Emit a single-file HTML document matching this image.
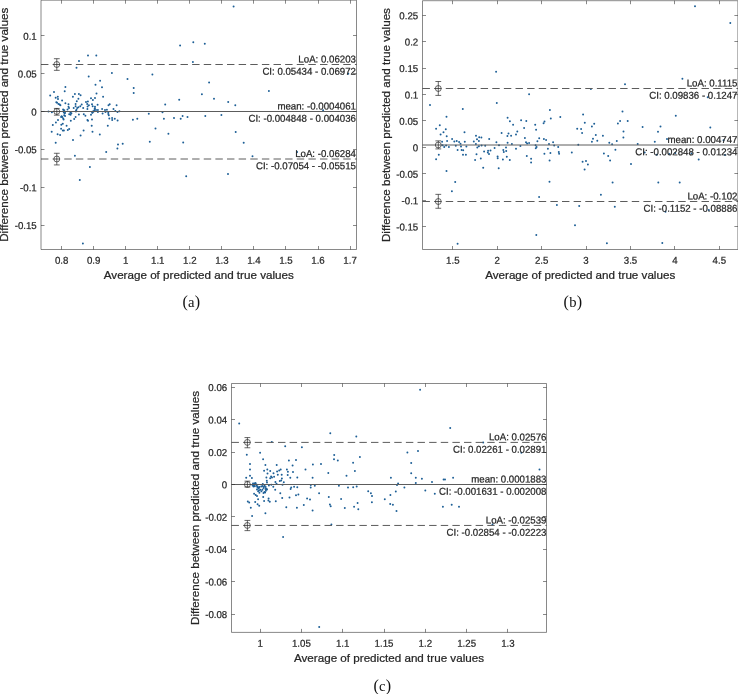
<!DOCTYPE html>
<html><head><meta charset="utf-8"><title>Bland-Altman plots</title>
<style>html,body{margin:0;padding:0;background:#fff;}body{width:738px;height:694px;overflow:hidden;}svg{display:block;will-change:transform;}text{font-family:"Liberation Sans",sans-serif;fill:#262626;stroke:#262626;stroke-width:0.24px;}.t{font-size:10.00px;}.l{font-size:11.65px;}.c{font-family:"Liberation Serif",serif;font-size:16.1px;fill:#111;stroke:none;}</style></head><body>
<svg width="738" height="694" viewBox="0 0 738 694">
<rect width="738" height="694" fill="#fff"/>
<g id="plot-a">
<g fill="#1d5f96">
<circle cx="88.0" cy="55.4" r="0.98"/>
<circle cx="96.3" cy="55.4" r="0.98"/>
<circle cx="79.0" cy="61.0" r="0.98"/>
<circle cx="76.5" cy="67.8" r="0.98"/>
<circle cx="88.7" cy="76.6" r="0.98"/>
<circle cx="100.1" cy="80.8" r="0.98"/>
<circle cx="95.5" cy="84.7" r="0.98"/>
<circle cx="102.0" cy="87.3" r="0.98"/>
<circle cx="65.4" cy="87.1" r="0.98"/>
<circle cx="64.7" cy="91.2" r="0.98"/>
<circle cx="54.0" cy="92.0" r="0.98"/>
<circle cx="50.2" cy="95.6" r="0.98"/>
<circle cx="96.5" cy="93.4" r="0.98"/>
<circle cx="103.1" cy="96.7" r="0.98"/>
<circle cx="74.9" cy="94.1" r="0.98"/>
<circle cx="78.9" cy="93.9" r="0.98"/>
<circle cx="80.6" cy="95.3" r="0.98"/>
<circle cx="72.9" cy="96.7" r="0.98"/>
<circle cx="55.7" cy="97.7" r="0.98"/>
<circle cx="57.8" cy="96.7" r="0.98"/>
<circle cx="58.0" cy="98.9" r="0.98"/>
<circle cx="62.1" cy="100.4" r="0.98"/>
<circle cx="78.4" cy="98.8" r="0.98"/>
<circle cx="76.8" cy="101.2" r="0.98"/>
<circle cx="91.0" cy="98.2" r="0.98"/>
<circle cx="95.0" cy="98.0" r="0.98"/>
<circle cx="92.9" cy="100.1" r="0.98"/>
<circle cx="57.1" cy="102.7" r="0.98"/>
<circle cx="58.5" cy="103.9" r="0.98"/>
<circle cx="59.7" cy="104.6" r="0.98"/>
<circle cx="65.4" cy="103.2" r="0.98"/>
<circle cx="68.5" cy="104.3" r="0.98"/>
<circle cx="75.6" cy="104.1" r="0.98"/>
<circle cx="86.0" cy="102.0" r="0.98"/>
<circle cx="87.9" cy="101.5" r="0.98"/>
<circle cx="87.2" cy="103.9" r="0.98"/>
<circle cx="81.7" cy="104.6" r="0.98"/>
<circle cx="88.9" cy="105.3" r="0.98"/>
<circle cx="92.0" cy="104.3" r="0.98"/>
<circle cx="92.7" cy="106.2" r="0.98"/>
<circle cx="97.6" cy="104.8" r="0.98"/>
<circle cx="95.0" cy="106.7" r="0.98"/>
<circle cx="109.7" cy="104.3" r="0.98"/>
<circle cx="68.5" cy="106.7" r="0.98"/>
<circle cx="75.6" cy="106.2" r="0.98"/>
<circle cx="80.3" cy="106.2" r="0.98"/>
<circle cx="78.4" cy="107.2" r="0.98"/>
<circle cx="83.2" cy="108.1" r="0.98"/>
<circle cx="73.7" cy="108.1" r="0.98"/>
<circle cx="67.5" cy="109.4" r="0.98"/>
<circle cx="63.1" cy="109.4" r="0.98"/>
<circle cx="63.7" cy="111.0" r="0.98"/>
<circle cx="65.1" cy="111.9" r="0.98"/>
<circle cx="76.5" cy="109.7" r="0.98"/>
<circle cx="75.9" cy="111.6" r="0.98"/>
<circle cx="87.4" cy="109.1" r="0.98"/>
<circle cx="94.6" cy="109.1" r="0.98"/>
<circle cx="96.0" cy="110.0" r="0.98"/>
<circle cx="97.9" cy="110.0" r="0.98"/>
<circle cx="93.6" cy="111.6" r="0.98"/>
<circle cx="92.2" cy="112.7" r="0.98"/>
<circle cx="102.1" cy="109.1" r="0.98"/>
<circle cx="105.0" cy="110.0" r="0.98"/>
<circle cx="106.9" cy="109.7" r="0.98"/>
<circle cx="48.5" cy="111.6" r="0.98"/>
<circle cx="51.9" cy="112.2" r="0.98"/>
<circle cx="97.9" cy="111.9" r="0.98"/>
<circle cx="105.5" cy="111.9" r="0.98"/>
<circle cx="108.3" cy="112.4" r="0.98"/>
<circle cx="78.9" cy="114.5" r="0.98"/>
<circle cx="83.8" cy="114.2" r="0.98"/>
<circle cx="85.4" cy="115.7" r="0.98"/>
<circle cx="91.0" cy="114.7" r="0.98"/>
<circle cx="102.6" cy="113.6" r="0.98"/>
<circle cx="108.3" cy="113.9" r="0.98"/>
<circle cx="108.8" cy="115.2" r="0.98"/>
<circle cx="109.3" cy="118.5" r="0.98"/>
<circle cx="70.4" cy="112.8" r="0.98"/>
<circle cx="70.6" cy="114.7" r="0.98"/>
<circle cx="64.9" cy="113.3" r="0.98"/>
<circle cx="64.2" cy="115.2" r="0.98"/>
<circle cx="65.1" cy="115.9" r="0.98"/>
<circle cx="62.3" cy="117.1" r="0.98"/>
<circle cx="63.2" cy="118.5" r="0.98"/>
<circle cx="61.1" cy="117.1" r="0.98"/>
<circle cx="75.6" cy="117.1" r="0.98"/>
<circle cx="74.2" cy="119.0" r="0.98"/>
<circle cx="70.8" cy="120.7" r="0.98"/>
<circle cx="87.4" cy="119.9" r="0.98"/>
<circle cx="92.0" cy="119.4" r="0.98"/>
<circle cx="58.0" cy="120.1" r="0.98"/>
<circle cx="55.9" cy="122.5" r="0.98"/>
<circle cx="52.8" cy="125.1" r="0.98"/>
<circle cx="62.8" cy="123.7" r="0.98"/>
<circle cx="61.3" cy="124.7" r="0.98"/>
<circle cx="66.6" cy="125.8" r="0.98"/>
<circle cx="91.7" cy="125.8" r="0.98"/>
<circle cx="107.8" cy="125.8" r="0.98"/>
<circle cx="61.1" cy="128.7" r="0.98"/>
<circle cx="62.8" cy="130.4" r="0.98"/>
<circle cx="63.9" cy="130.6" r="0.98"/>
<circle cx="67.8" cy="129.9" r="0.98"/>
<circle cx="69.2" cy="128.9" r="0.98"/>
<circle cx="51.7" cy="131.8" r="0.98"/>
<circle cx="83.6" cy="130.6" r="0.98"/>
<circle cx="92.5" cy="131.8" r="0.98"/>
<circle cx="57.6" cy="134.3" r="0.98"/>
<circle cx="60.1" cy="134.9" r="0.98"/>
<circle cx="80.6" cy="135.4" r="0.98"/>
<circle cx="99.8" cy="134.6" r="0.98"/>
<circle cx="73.0" cy="140.1" r="0.98"/>
<circle cx="55.7" cy="142.7" r="0.98"/>
<circle cx="106.2" cy="152.1" r="0.98"/>
<circle cx="74.9" cy="155.8" r="0.98"/>
<circle cx="89.9" cy="167.0" r="0.98"/>
<circle cx="79.8" cy="180.1" r="0.98"/>
<circle cx="82.9" cy="243.5" r="0.98"/>
<circle cx="108.5" cy="105.3" r="0.98"/>
<circle cx="180.1" cy="45.4" r="0.98"/>
<circle cx="193.3" cy="42.3" r="0.98"/>
<circle cx="204.8" cy="43.8" r="0.98"/>
<circle cx="192.9" cy="62.1" r="0.98"/>
<circle cx="111.9" cy="73.1" r="0.98"/>
<circle cx="127.5" cy="79.0" r="0.98"/>
<circle cx="152.4" cy="74.5" r="0.98"/>
<circle cx="133.7" cy="87.9" r="0.98"/>
<circle cx="133.7" cy="92.9" r="0.98"/>
<circle cx="209.1" cy="82.6" r="0.98"/>
<circle cx="201.9" cy="94.2" r="0.98"/>
<circle cx="214.0" cy="98.7" r="0.98"/>
<circle cx="228.2" cy="101.9" r="0.98"/>
<circle cx="179.2" cy="99.7" r="0.98"/>
<circle cx="165.2" cy="104.4" r="0.98"/>
<circle cx="116.6" cy="105.3" r="0.98"/>
<circle cx="113.5" cy="108.9" r="0.98"/>
<circle cx="115.3" cy="111.1" r="0.98"/>
<circle cx="117.5" cy="112.0" r="0.98"/>
<circle cx="119.4" cy="111.3" r="0.98"/>
<circle cx="112.1" cy="117.9" r="0.98"/>
<circle cx="112.2" cy="120.1" r="0.98"/>
<circle cx="114.8" cy="118.8" r="0.98"/>
<circle cx="117.6" cy="120.6" r="0.98"/>
<circle cx="132.9" cy="119.7" r="0.98"/>
<circle cx="137.3" cy="118.7" r="0.98"/>
<circle cx="148.8" cy="113.8" r="0.98"/>
<circle cx="162.5" cy="112.2" r="0.98"/>
<circle cx="163.9" cy="118.8" r="0.98"/>
<circle cx="174.0" cy="117.9" r="0.98"/>
<circle cx="180.7" cy="118.8" r="0.98"/>
<circle cx="182.6" cy="116.1" r="0.98"/>
<circle cx="187.5" cy="117.0" r="0.98"/>
<circle cx="205.3" cy="116.1" r="0.98"/>
<circle cx="221.4" cy="115.1" r="0.98"/>
<circle cx="118.0" cy="144.4" r="0.98"/>
<circle cx="117.4" cy="148.5" r="0.98"/>
<circle cx="122.7" cy="143.8" r="0.98"/>
<circle cx="155.5" cy="128.4" r="0.98"/>
<circle cx="168.4" cy="133.7" r="0.98"/>
<circle cx="149.8" cy="141.7" r="0.98"/>
<circle cx="183.2" cy="142.5" r="0.98"/>
<circle cx="186.2" cy="176.2" r="0.98"/>
<circle cx="228.0" cy="174.0" r="0.98"/>
<circle cx="56.3" cy="102.2" r="0.98"/>
<circle cx="60.4" cy="105.2" r="0.98"/>
<circle cx="69.0" cy="108.1" r="0.98"/>
<circle cx="64.3" cy="110.2" r="0.98"/>
<circle cx="63.8" cy="112.4" r="0.98"/>
<circle cx="69.2" cy="114.2" r="0.98"/>
<circle cx="71.4" cy="113.3" r="0.98"/>
<circle cx="77.2" cy="107.9" r="0.98"/>
<circle cx="76.1" cy="110.8" r="0.98"/>
<circle cx="61.6" cy="116.2" r="0.98"/>
<circle cx="63.6" cy="119.6" r="0.98"/>
<circle cx="87.6" cy="106.6" r="0.98"/>
<circle cx="94.9" cy="108.3" r="0.98"/>
<circle cx="93.0" cy="111.6" r="0.98"/>
<circle cx="94.2" cy="110.8" r="0.98"/>
<circle cx="92.6" cy="112.4" r="0.98"/>
<circle cx="88.0" cy="120.8" r="0.98"/>
<circle cx="233.6" cy="6.5" r="0.98"/>
<circle cx="268.9" cy="91.1" r="0.98"/>
<circle cx="235.3" cy="105.3" r="0.98"/>
<circle cx="348.3" cy="73.8" r="0.98"/>
<circle cx="323.1" cy="110.2" r="0.98"/>
<circle cx="235.7" cy="131.9" r="0.98"/>
<circle cx="243.7" cy="142.7" r="0.98"/>
<circle cx="252.5" cy="156.2" r="0.98"/>
<circle cx="297.1" cy="152.1" r="0.98"/>
</g>
<line x1="41.0" y1="64.50" x2="356.5" y2="64.50" stroke="#5c5c5c" stroke-width="1" stroke-dasharray="7.43 4.196"/>
<g stroke="#262626" stroke-width="0.7" fill="none"><line x1="56.8" y1="70.34" x2="56.8" y2="58.69"/><line x1="53.9" y1="70.34" x2="59.7" y2="70.34"/><line x1="53.9" y1="58.69" x2="59.7" y2="58.69"/><circle cx="56.8" cy="64.50" r="2.95"/></g>
<text class="t" transform="translate(355.90 62.50) rotate(0.05) scale(0.968 1)" text-anchor="end">LoA: 0.06203</text>
<text class="t" transform="translate(355.90 74.85) rotate(0.05) scale(0.968 1)" text-anchor="end">CI: 0.05434 - 0.06972</text>
<line x1="41.0" y1="111.50" x2="356.5" y2="111.50" stroke="#5c5c5c" stroke-width="1"/>
<g stroke="#262626" stroke-width="0.7" fill="none"><line x1="56.8" y1="115.17" x2="56.8" y2="108.44"/><line x1="53.9" y1="115.17" x2="59.7" y2="115.17"/><line x1="53.9" y1="108.44" x2="59.7" y2="108.44"/><circle cx="56.8" cy="111.50" r="2.95"/></g>
<text class="t" transform="translate(355.90 109.50) rotate(0.05) scale(0.968 1)" text-anchor="end">mean: -0.0004061</text>
<text class="t" transform="translate(355.90 121.85) rotate(0.05) scale(0.968 1)" text-anchor="end">CI: -0.004848 - 0.004036</text>
<line x1="41.0" y1="159.00" x2="356.5" y2="159.00" stroke="#5c5c5c" stroke-width="1" stroke-dasharray="7.43 4.196"/>
<g stroke="#262626" stroke-width="0.7" fill="none"><line x1="56.8" y1="164.93" x2="56.8" y2="153.28"/><line x1="53.9" y1="164.93" x2="59.7" y2="164.93"/><line x1="53.9" y1="153.28" x2="59.7" y2="153.28"/><circle cx="56.8" cy="159.00" r="2.95"/></g>
<text class="t" transform="translate(355.90 157.00) rotate(0.05) scale(0.968 1)" text-anchor="end">LoA: -0.06284</text>
<text class="t" transform="translate(355.90 169.35) rotate(0.05) scale(0.968 1)" text-anchor="end">CI: -0.07054 - -0.05515</text>
<path d="M41.0 0.2H356.5V249.5H41.0ZM61.50 249.5v-3.5M61.50 0.2v3.5M93.50 249.5v-3.5M93.50 0.2v3.5M125.50 249.5v-3.5M125.50 0.2v3.5M157.50 249.5v-3.5M157.50 0.2v3.5M189.50 249.5v-3.5M189.50 0.2v3.5M221.50 249.5v-3.5M221.50 0.2v3.5M253.50 249.5v-3.5M253.50 0.2v3.5M285.50 249.5v-3.5M285.50 0.2v3.5M318.50 249.5v-3.5M318.50 0.2v3.5M350.50 249.5v-3.5M350.50 0.2v3.5M41.0 35.50h3.5M356.5 35.50h-3.5M41.0 73.50h3.5M356.5 73.50h-3.5M41.0 111.50h3.5M356.5 111.50h-3.5M41.0 149.50h3.5M356.5 149.50h-3.5M41.0 187.50h3.5M356.5 187.50h-3.5M41.0 225.50h3.5M356.5 225.50h-3.5" fill="none" stroke="#262626" stroke-width="0.55"/>
<text class="t" transform="translate(61.60 263.80) rotate(0.05) scale(0.968 1)" text-anchor="middle">0.8</text>
<text class="t" transform="translate(93.65 263.80) rotate(0.05) scale(0.968 1)" text-anchor="middle">0.9</text>
<text class="t" transform="translate(125.70 263.80) rotate(0.05) scale(0.968 1)" text-anchor="middle">1</text>
<text class="t" transform="translate(157.75 263.80) rotate(0.05) scale(0.968 1)" text-anchor="middle">1.1</text>
<text class="t" transform="translate(189.80 263.80) rotate(0.05) scale(0.968 1)" text-anchor="middle">1.2</text>
<text class="t" transform="translate(221.85 263.80) rotate(0.05) scale(0.968 1)" text-anchor="middle">1.3</text>
<text class="t" transform="translate(253.90 263.80) rotate(0.05) scale(0.968 1)" text-anchor="middle">1.4</text>
<text class="t" transform="translate(285.95 263.80) rotate(0.05) scale(0.968 1)" text-anchor="middle">1.5</text>
<text class="t" transform="translate(318.00 263.80) rotate(0.05) scale(0.968 1)" text-anchor="middle">1.6</text>
<text class="t" transform="translate(350.05 263.80) rotate(0.05) scale(0.968 1)" text-anchor="middle">1.7</text>
<text class="t" transform="translate(36.70 39.65) rotate(0.05) scale(0.968 1)" text-anchor="end">0.1</text>
<text class="t" transform="translate(36.70 77.53) rotate(0.05) scale(0.968 1)" text-anchor="end">0.05</text>
<text class="t" transform="translate(36.70 115.40) rotate(0.05) scale(0.968 1)" text-anchor="end">0</text>
<text class="t" transform="translate(36.70 153.28) rotate(0.05) scale(0.968 1)" text-anchor="end">-0.05</text>
<text class="t" transform="translate(36.70 191.15) rotate(0.05) scale(0.968 1)" text-anchor="end">-0.1</text>
<text class="t" transform="translate(36.70 229.03) rotate(0.05) scale(0.968 1)" text-anchor="end">-0.15</text>
<text class="l" x="198.8" y="278.9" text-anchor="middle">Average of predicted and true values</text>
<text class="l" transform="translate(8.1 124.8) rotate(-90)" text-anchor="middle">Difference between predicted and true values</text>
<text class="c" x="191.3" y="307.4" text-anchor="middle" letter-spacing="0.2">(<tspan font-size="14.6">a</tspan>)</text>
</g>
<g id="plot-b">
<g fill="#1d5f96">
<circle cx="496.1" cy="71.8" r="0.98"/>
<circle cx="496.8" cy="103.0" r="0.98"/>
<circle cx="529.1" cy="94.3" r="0.98"/>
<circle cx="430.0" cy="104.9" r="0.98"/>
<circle cx="462.8" cy="109.1" r="0.98"/>
<circle cx="446.5" cy="116.8" r="0.98"/>
<circle cx="549.9" cy="110.1" r="0.98"/>
<circle cx="507.6" cy="117.7" r="0.98"/>
<circle cx="509.9" cy="121.3" r="0.98"/>
<circle cx="521.1" cy="120.3" r="0.98"/>
<circle cx="526.3" cy="121.0" r="0.98"/>
<circle cx="550.8" cy="118.4" r="0.98"/>
<circle cx="560.3" cy="116.9" r="0.98"/>
<circle cx="544.5" cy="121.5" r="0.98"/>
<circle cx="543.6" cy="123.3" r="0.98"/>
<circle cx="513.1" cy="124.7" r="0.98"/>
<circle cx="535.2" cy="124.8" r="0.98"/>
<circle cx="439.8" cy="125.3" r="0.98"/>
<circle cx="436.1" cy="128.8" r="0.98"/>
<circle cx="445.8" cy="129.2" r="0.98"/>
<circle cx="443.5" cy="132.2" r="0.98"/>
<circle cx="440.6" cy="134.4" r="0.98"/>
<circle cx="446.7" cy="136.2" r="0.98"/>
<circle cx="464.5" cy="132.2" r="0.98"/>
<circle cx="476.0" cy="135.8" r="0.98"/>
<circle cx="479.2" cy="137.3" r="0.98"/>
<circle cx="481.4" cy="137.6" r="0.98"/>
<circle cx="489.2" cy="139.1" r="0.98"/>
<circle cx="452.1" cy="138.9" r="0.98"/>
<circle cx="477.0" cy="139.3" r="0.98"/>
<circle cx="478.9" cy="140.9" r="0.98"/>
<circle cx="473.8" cy="141.4" r="0.98"/>
<circle cx="447.1" cy="141.1" r="0.98"/>
<circle cx="442.1" cy="141.7" r="0.98"/>
<circle cx="454.3" cy="141.4" r="0.98"/>
<circle cx="456.7" cy="140.9" r="0.98"/>
<circle cx="459.1" cy="142.0" r="0.98"/>
<circle cx="464.8" cy="141.8" r="0.98"/>
<circle cx="460.5" cy="143.8" r="0.98"/>
<circle cx="496.4" cy="142.3" r="0.98"/>
<circle cx="475.9" cy="144.1" r="0.98"/>
<circle cx="499.0" cy="145.2" r="0.98"/>
<circle cx="442.6" cy="145.2" r="0.98"/>
<circle cx="446.1" cy="145.4" r="0.98"/>
<circle cx="444.2" cy="147.1" r="0.98"/>
<circle cx="448.9" cy="147.1" r="0.98"/>
<circle cx="455.8" cy="145.8" r="0.98"/>
<circle cx="461.0" cy="146.6" r="0.98"/>
<circle cx="466.4" cy="146.6" r="0.98"/>
<circle cx="481.6" cy="145.6" r="0.98"/>
<circle cx="485.2" cy="145.8" r="0.98"/>
<circle cx="478.9" cy="146.3" r="0.98"/>
<circle cx="477.3" cy="147.4" r="0.98"/>
<circle cx="494.6" cy="147.9" r="0.98"/>
<circle cx="457.6" cy="149.9" r="0.98"/>
<circle cx="461.6" cy="149.9" r="0.98"/>
<circle cx="463.2" cy="150.3" r="0.98"/>
<circle cx="484.1" cy="151.4" r="0.98"/>
<circle cx="488.1" cy="150.7" r="0.98"/>
<circle cx="490.5" cy="150.4" r="0.98"/>
<circle cx="487.8" cy="152.6" r="0.98"/>
<circle cx="489.0" cy="153.9" r="0.98"/>
<circle cx="463.0" cy="154.8" r="0.98"/>
<circle cx="465.9" cy="154.8" r="0.98"/>
<circle cx="476.5" cy="154.2" r="0.98"/>
<circle cx="438.8" cy="154.7" r="0.98"/>
<circle cx="436.1" cy="159.3" r="0.98"/>
<circle cx="480.8" cy="158.6" r="0.98"/>
<circle cx="475.1" cy="159.9" r="0.98"/>
<circle cx="497.6" cy="156.4" r="0.98"/>
<circle cx="497.7" cy="158.2" r="0.98"/>
<circle cx="483.2" cy="167.8" r="0.98"/>
<circle cx="498.7" cy="168.2" r="0.98"/>
<circle cx="446.5" cy="171.0" r="0.98"/>
<circle cx="524.1" cy="127.9" r="0.98"/>
<circle cx="536.1" cy="129.7" r="0.98"/>
<circle cx="577.2" cy="128.8" r="0.98"/>
<circle cx="517.3" cy="131.4" r="0.98"/>
<circle cx="501.6" cy="133.1" r="0.98"/>
<circle cx="508.5" cy="133.5" r="0.98"/>
<circle cx="516.0" cy="134.4" r="0.98"/>
<circle cx="507.4" cy="136.0" r="0.98"/>
<circle cx="511.1" cy="135.8" r="0.98"/>
<circle cx="524.9" cy="137.9" r="0.98"/>
<circle cx="539.2" cy="138.2" r="0.98"/>
<circle cx="537.4" cy="141.2" r="0.98"/>
<circle cx="543.9" cy="139.1" r="0.98"/>
<circle cx="546.1" cy="140.1" r="0.98"/>
<circle cx="507.6" cy="142.8" r="0.98"/>
<circle cx="511.9" cy="143.9" r="0.98"/>
<circle cx="526.0" cy="142.3" r="0.98"/>
<circle cx="527.1" cy="143.4" r="0.98"/>
<circle cx="529.1" cy="143.1" r="0.98"/>
<circle cx="553.1" cy="142.3" r="0.98"/>
<circle cx="549.0" cy="144.1" r="0.98"/>
<circle cx="554.2" cy="145.4" r="0.98"/>
<circle cx="578.3" cy="144.7" r="0.98"/>
<circle cx="520.4" cy="146.1" r="0.98"/>
<circle cx="535.6" cy="145.2" r="0.98"/>
<circle cx="536.6" cy="146.9" r="0.98"/>
<circle cx="535.8" cy="148.2" r="0.98"/>
<circle cx="558.2" cy="147.1" r="0.98"/>
<circle cx="506.0" cy="147.6" r="0.98"/>
<circle cx="516.0" cy="148.7" r="0.98"/>
<circle cx="547.9" cy="148.8" r="0.98"/>
<circle cx="503.3" cy="150.1" r="0.98"/>
<circle cx="506.2" cy="151.0" r="0.98"/>
<circle cx="503.8" cy="152.0" r="0.98"/>
<circle cx="544.4" cy="153.8" r="0.98"/>
<circle cx="550.4" cy="153.0" r="0.98"/>
<circle cx="558.8" cy="152.1" r="0.98"/>
<circle cx="559.1" cy="153.7" r="0.98"/>
<circle cx="571.8" cy="152.6" r="0.98"/>
<circle cx="526.8" cy="156.0" r="0.98"/>
<circle cx="506.8" cy="156.7" r="0.98"/>
<circle cx="502.9" cy="159.6" r="0.98"/>
<circle cx="509.8" cy="159.9" r="0.98"/>
<circle cx="531.1" cy="158.8" r="0.98"/>
<circle cx="531.1" cy="162.6" r="0.98"/>
<circle cx="549.6" cy="160.6" r="0.98"/>
<circle cx="625.0" cy="84.2" r="0.98"/>
<circle cx="590.9" cy="89.0" r="0.98"/>
<circle cx="622.5" cy="111.4" r="0.98"/>
<circle cx="583.1" cy="114.5" r="0.98"/>
<circle cx="584.8" cy="122.7" r="0.98"/>
<circle cx="594.2" cy="123.7" r="0.98"/>
<circle cx="591.9" cy="126.5" r="0.98"/>
<circle cx="620.1" cy="120.9" r="0.98"/>
<circle cx="617.9" cy="123.4" r="0.98"/>
<circle cx="627.7" cy="120.9" r="0.98"/>
<circle cx="642.6" cy="126.9" r="0.98"/>
<circle cx="660.5" cy="126.6" r="0.98"/>
<circle cx="581.1" cy="128.9" r="0.98"/>
<circle cx="582.1" cy="132.9" r="0.98"/>
<circle cx="623.5" cy="131.6" r="0.98"/>
<circle cx="658.0" cy="131.8" r="0.98"/>
<circle cx="595.8" cy="134.9" r="0.98"/>
<circle cx="602.9" cy="135.7" r="0.98"/>
<circle cx="593.0" cy="138.7" r="0.98"/>
<circle cx="623.4" cy="137.6" r="0.98"/>
<circle cx="591.9" cy="141.7" r="0.98"/>
<circle cx="597.3" cy="140.7" r="0.98"/>
<circle cx="616.8" cy="141.1" r="0.98"/>
<circle cx="609.3" cy="142.8" r="0.98"/>
<circle cx="654.8" cy="141.8" r="0.98"/>
<circle cx="612.1" cy="144.2" r="0.98"/>
<circle cx="637.7" cy="144.0" r="0.98"/>
<circle cx="615.4" cy="149.8" r="0.98"/>
<circle cx="603.9" cy="153.6" r="0.98"/>
<circle cx="608.2" cy="155.9" r="0.98"/>
<circle cx="610.1" cy="160.6" r="0.98"/>
<circle cx="582.6" cy="161.8" r="0.98"/>
<circle cx="586.0" cy="161.1" r="0.98"/>
<circle cx="587.9" cy="164.5" r="0.98"/>
<circle cx="584.6" cy="169.4" r="0.98"/>
<circle cx="631.0" cy="164.0" r="0.98"/>
<circle cx="644.7" cy="152.6" r="0.98"/>
<circle cx="656.8" cy="154.8" r="0.98"/>
<circle cx="612.6" cy="182.4" r="0.98"/>
<circle cx="658.3" cy="182.5" r="0.98"/>
<circle cx="600.9" cy="194.8" r="0.98"/>
<circle cx="579.2" cy="206.0" r="0.98"/>
<circle cx="614.8" cy="206.7" r="0.98"/>
<circle cx="665.5" cy="211.8" r="0.98"/>
<circle cx="575.0" cy="225.3" r="0.98"/>
<circle cx="682.4" cy="78.7" r="0.98"/>
<circle cx="707.7" cy="97.3" r="0.98"/>
<circle cx="675.8" cy="115.8" r="0.98"/>
<circle cx="710.3" cy="127.6" r="0.98"/>
<circle cx="667.0" cy="139.0" r="0.98"/>
<circle cx="723.5" cy="140.2" r="0.98"/>
<circle cx="698.7" cy="159.5" r="0.98"/>
<circle cx="675.3" cy="153.0" r="0.98"/>
<circle cx="669.2" cy="154.1" r="0.98"/>
<circle cx="691.5" cy="153.4" r="0.98"/>
<circle cx="725.0" cy="155.1" r="0.98"/>
<circle cx="679.7" cy="182.4" r="0.98"/>
<circle cx="708.8" cy="209.9" r="0.98"/>
<circle cx="662.3" cy="243.0" r="0.98"/>
<circle cx="455.2" cy="181.9" r="0.98"/>
<circle cx="451.9" cy="191.2" r="0.98"/>
<circle cx="457.6" cy="243.7" r="0.98"/>
<circle cx="549.5" cy="181.7" r="0.98"/>
<circle cx="539.1" cy="196.9" r="0.98"/>
<circle cx="556.9" cy="205.1" r="0.98"/>
<circle cx="536.3" cy="235.0" r="0.98"/>
<circle cx="606.9" cy="243.3" r="0.98"/>
<circle cx="695.0" cy="6.3" r="0.98"/>
<circle cx="730.3" cy="22.9" r="0.98"/>
</g>
<line x1="422.5" y1="88.50" x2="737.9" y2="88.50" stroke="#5c5c5c" stroke-width="1" stroke-dasharray="7.43 4.196"/>
<g stroke="#262626" stroke-width="0.7" fill="none"><line x1="438.3" y1="95.42" x2="438.3" y2="81.50"/><line x1="435.4" y1="95.42" x2="441.2" y2="95.42"/><line x1="435.4" y1="81.50" x2="441.2" y2="81.50"/><circle cx="438.3" cy="88.50" r="2.95"/></g>
<text class="t" transform="translate(737.40 86.50) rotate(0.05) scale(0.968 1)" text-anchor="end">LoA: 0.1115</text>
<text class="t" transform="translate(737.40 98.85) rotate(0.05) scale(0.968 1)" text-anchor="end">CI: 0.09836 - 0.1247</text>
<line x1="422.5" y1="145.00" x2="737.9" y2="145.00" stroke="#5c5c5c" stroke-width="1"/>
<g stroke="#262626" stroke-width="0.7" fill="none"><line x1="438.3" y1="148.91" x2="438.3" y2="140.88"/><line x1="435.4" y1="148.91" x2="441.2" y2="148.91"/><line x1="435.4" y1="140.88" x2="441.2" y2="140.88"/><circle cx="438.3" cy="145.00" r="2.95"/></g>
<text class="t" transform="translate(737.40 143.00) rotate(0.05) scale(0.968 1)" text-anchor="end">mean: 0.004747</text>
<text class="t" transform="translate(737.40 155.35) rotate(0.05) scale(0.968 1)" text-anchor="end">CI: -0.002848 - 0.01234</text>
<line x1="422.5" y1="201.50" x2="737.9" y2="201.50" stroke="#5c5c5c" stroke-width="1" stroke-dasharray="7.43 4.196"/>
<g stroke="#262626" stroke-width="0.7" fill="none"><line x1="438.3" y1="208.28" x2="438.3" y2="194.36"/><line x1="435.4" y1="208.28" x2="441.2" y2="208.28"/><line x1="435.4" y1="194.36" x2="441.2" y2="194.36"/><circle cx="438.3" cy="201.50" r="2.95"/></g>
<text class="t" transform="translate(737.40 199.50) rotate(0.05) scale(0.968 1)" text-anchor="end">LoA: -0.102</text>
<text class="t" transform="translate(737.40 211.85) rotate(0.05) scale(0.968 1)" text-anchor="end">CI: -0.1152 - -0.08886</text>
<path d="M422.5 0.7H737.9V249.5H422.5ZM452.50 249.5v-3.5M452.50 0.7v3.5M497.50 249.5v-3.5M497.50 0.7v3.5M541.50 249.5v-3.5M541.50 0.7v3.5M586.50 249.5v-3.5M586.50 0.7v3.5M630.50 249.5v-3.5M630.50 0.7v3.5M674.50 249.5v-3.5M674.50 0.7v3.5M719.50 249.5v-3.5M719.50 0.7v3.5M422.5 15.50h3.5M737.9 15.50h-3.5M422.5 41.50h3.5M737.9 41.50h-3.5M422.5 68.50h3.5M737.9 68.50h-3.5M422.5 94.50h3.5M737.9 94.50h-3.5M422.5 120.50h3.5M737.9 120.50h-3.5M422.5 147.50h3.5M737.9 147.50h-3.5M422.5 173.50h3.5M737.9 173.50h-3.5M422.5 200.50h3.5M737.9 200.50h-3.5M422.5 226.50h3.5M737.9 226.50h-3.5" fill="none" stroke="#262626" stroke-width="0.55"/>
<text class="t" transform="translate(452.80 263.80) rotate(0.05) scale(0.968 1)" text-anchor="middle">1.5</text>
<text class="t" transform="translate(497.22 263.80) rotate(0.05) scale(0.968 1)" text-anchor="middle">2</text>
<text class="t" transform="translate(541.64 263.80) rotate(0.05) scale(0.968 1)" text-anchor="middle">2.5</text>
<text class="t" transform="translate(586.06 263.80) rotate(0.05) scale(0.968 1)" text-anchor="middle">3</text>
<text class="t" transform="translate(630.48 263.80) rotate(0.05) scale(0.968 1)" text-anchor="middle">3.5</text>
<text class="t" transform="translate(674.90 263.80) rotate(0.05) scale(0.968 1)" text-anchor="middle">4</text>
<text class="t" transform="translate(719.32 263.80) rotate(0.05) scale(0.968 1)" text-anchor="middle">4.5</text>
<text class="t" transform="translate(418.20 19.18) rotate(0.05) scale(0.968 1)" text-anchor="end">0.25</text>
<text class="t" transform="translate(418.20 45.60) rotate(0.05) scale(0.968 1)" text-anchor="end">0.2</text>
<text class="t" transform="translate(418.20 72.03) rotate(0.05) scale(0.968 1)" text-anchor="end">0.15</text>
<text class="t" transform="translate(418.20 98.45) rotate(0.05) scale(0.968 1)" text-anchor="end">0.1</text>
<text class="t" transform="translate(418.20 124.88) rotate(0.05) scale(0.968 1)" text-anchor="end">0.05</text>
<text class="t" transform="translate(418.20 151.30) rotate(0.05) scale(0.968 1)" text-anchor="end">0</text>
<text class="t" transform="translate(418.20 177.73) rotate(0.05) scale(0.968 1)" text-anchor="end">-0.05</text>
<text class="t" transform="translate(418.20 204.15) rotate(0.05) scale(0.968 1)" text-anchor="end">-0.1</text>
<text class="t" transform="translate(418.20 230.58) rotate(0.05) scale(0.968 1)" text-anchor="end">-0.15</text>
<text class="l" x="580.2" y="278.9" text-anchor="middle">Average of predicted and true values</text>
<text class="l" transform="translate(389.6 125.1) rotate(-90)" text-anchor="middle">Difference between predicted and true values</text>
<text class="c" x="572.9" y="307.4" text-anchor="middle" letter-spacing="0.2">(<tspan font-size="14.6">b</tspan>)</text>
</g>
<g id="plot-c">
<g fill="#1d5f96">
<circle cx="239.2" cy="423.5" r="0.98"/>
<circle cx="330.3" cy="433.3" r="0.98"/>
<circle cx="356.3" cy="436.6" r="0.98"/>
<circle cx="271.8" cy="442.0" r="0.98"/>
<circle cx="285.2" cy="446.3" r="0.98"/>
<circle cx="301.9" cy="447.2" r="0.98"/>
<circle cx="246.8" cy="454.7" r="0.98"/>
<circle cx="260.1" cy="452.8" r="0.98"/>
<circle cx="263.1" cy="459.3" r="0.98"/>
<circle cx="334.2" cy="454.9" r="0.98"/>
<circle cx="334.0" cy="459.3" r="0.98"/>
<circle cx="337.8" cy="460.4" r="0.98"/>
<circle cx="359.9" cy="457.1" r="0.98"/>
<circle cx="353.1" cy="462.7" r="0.98"/>
<circle cx="288.9" cy="460.6" r="0.98"/>
<circle cx="296.0" cy="460.0" r="0.98"/>
<circle cx="292.6" cy="465.4" r="0.98"/>
<circle cx="250.0" cy="463.9" r="0.98"/>
<circle cx="265.4" cy="465.0" r="0.98"/>
<circle cx="276.7" cy="465.0" r="0.98"/>
<circle cx="312.9" cy="464.5" r="0.98"/>
<circle cx="321.0" cy="464.0" r="0.98"/>
<circle cx="250.0" cy="469.4" r="0.98"/>
<circle cx="267.3" cy="469.5" r="0.98"/>
<circle cx="280.7" cy="469.4" r="0.98"/>
<circle cx="286.9" cy="469.5" r="0.98"/>
<circle cx="305.5" cy="469.5" r="0.98"/>
<circle cx="264.1" cy="470.7" r="0.98"/>
<circle cx="270.2" cy="470.9" r="0.98"/>
<circle cx="267.5" cy="473.4" r="0.98"/>
<circle cx="273.5" cy="473.2" r="0.98"/>
<circle cx="277.1" cy="471.6" r="0.98"/>
<circle cx="279.2" cy="470.5" r="0.98"/>
<circle cx="287.9" cy="471.8" r="0.98"/>
<circle cx="293.0" cy="472.1" r="0.98"/>
<circle cx="277.8" cy="474.7" r="0.98"/>
<circle cx="281.7" cy="474.8" r="0.98"/>
<circle cx="287.7" cy="475.1" r="0.98"/>
<circle cx="250.0" cy="475.8" r="0.98"/>
<circle cx="246.2" cy="477.8" r="0.98"/>
<circle cx="251.9" cy="478.0" r="0.98"/>
<circle cx="266.4" cy="477.4" r="0.98"/>
<circle cx="271.1" cy="476.4" r="0.98"/>
<circle cx="272.0" cy="477.4" r="0.98"/>
<circle cx="274.1" cy="476.7" r="0.98"/>
<circle cx="270.2" cy="478.3" r="0.98"/>
<circle cx="281.9" cy="478.6" r="0.98"/>
<circle cx="290.3" cy="477.8" r="0.98"/>
<circle cx="297.3" cy="477.5" r="0.98"/>
<circle cx="266.8" cy="480.8" r="0.98"/>
<circle cx="279.8" cy="481.0" r="0.98"/>
<circle cx="281.2" cy="480.5" r="0.98"/>
<circle cx="283.8" cy="482.3" r="0.98"/>
<circle cx="275.4" cy="481.9" r="0.98"/>
<circle cx="267.0" cy="482.6" r="0.98"/>
<circle cx="276.5" cy="483.7" r="0.98"/>
<circle cx="262.8" cy="484.1" r="0.98"/>
<circle cx="254.3" cy="483.4" r="0.98"/>
<circle cx="255.7" cy="484.1" r="0.98"/>
<circle cx="253.2" cy="484.8" r="0.98"/>
<circle cx="256.8" cy="484.8" r="0.98"/>
<circle cx="253.5" cy="486.4" r="0.98"/>
<circle cx="257.6" cy="486.4" r="0.98"/>
<circle cx="259.4" cy="487.0" r="0.98"/>
<circle cx="262.4" cy="485.9" r="0.98"/>
<circle cx="264.6" cy="485.4" r="0.98"/>
<circle cx="265.7" cy="487.0" r="0.98"/>
<circle cx="268.9" cy="485.6" r="0.98"/>
<circle cx="271.3" cy="484.8" r="0.98"/>
<circle cx="273.3" cy="486.8" r="0.98"/>
<circle cx="282.5" cy="484.8" r="0.98"/>
<circle cx="310.8" cy="485.1" r="0.98"/>
<circle cx="310.7" cy="487.5" r="0.98"/>
<circle cx="263.5" cy="488.1" r="0.98"/>
<circle cx="258.6" cy="488.6" r="0.98"/>
<circle cx="257.0" cy="489.5" r="0.98"/>
<circle cx="260.3" cy="489.7" r="0.98"/>
<circle cx="262.4" cy="489.7" r="0.98"/>
<circle cx="265.5" cy="489.1" r="0.98"/>
<circle cx="267.0" cy="489.5" r="0.98"/>
<circle cx="265.9" cy="490.8" r="0.98"/>
<circle cx="261.4" cy="491.3" r="0.98"/>
<circle cx="258.1" cy="491.3" r="0.98"/>
<circle cx="259.4" cy="492.7" r="0.98"/>
<circle cx="263.5" cy="492.9" r="0.98"/>
<circle cx="265.1" cy="492.4" r="0.98"/>
<circle cx="275.2" cy="489.7" r="0.98"/>
<circle cx="291.2" cy="487.5" r="0.98"/>
<circle cx="290.6" cy="489.1" r="0.98"/>
<circle cx="294.1" cy="486.8" r="0.98"/>
<circle cx="297.3" cy="487.3" r="0.98"/>
<circle cx="280.3" cy="493.2" r="0.98"/>
<circle cx="254.1" cy="493.8" r="0.98"/>
<circle cx="255.7" cy="495.1" r="0.98"/>
<circle cx="257.0" cy="496.0" r="0.98"/>
<circle cx="263.2" cy="497.1" r="0.98"/>
<circle cx="268.6" cy="498.4" r="0.98"/>
<circle cx="258.1" cy="499.2" r="0.98"/>
<circle cx="264.1" cy="501.1" r="0.98"/>
<circle cx="268.4" cy="500.5" r="0.98"/>
<circle cx="269.8" cy="501.8" r="0.98"/>
<circle cx="275.8" cy="501.3" r="0.98"/>
<circle cx="282.2" cy="498.0" r="0.98"/>
<circle cx="289.5" cy="497.6" r="0.98"/>
<circle cx="296.0" cy="495.3" r="0.98"/>
<circle cx="298.4" cy="494.6" r="0.98"/>
<circle cx="307.1" cy="498.4" r="0.98"/>
<circle cx="310.0" cy="499.5" r="0.98"/>
<circle cx="247.8" cy="501.4" r="0.98"/>
<circle cx="249.2" cy="502.5" r="0.98"/>
<circle cx="255.2" cy="501.9" r="0.98"/>
<circle cx="257.6" cy="504.3" r="0.98"/>
<circle cx="259.2" cy="505.7" r="0.98"/>
<circle cx="250.8" cy="507.8" r="0.98"/>
<circle cx="286.3" cy="507.2" r="0.98"/>
<circle cx="296.9" cy="507.8" r="0.98"/>
<circle cx="303.8" cy="504.9" r="0.98"/>
<circle cx="265.4" cy="513.3" r="0.98"/>
<circle cx="252.1" cy="516.0" r="0.98"/>
<circle cx="354.9" cy="471.0" r="0.98"/>
<circle cx="328.3" cy="473.0" r="0.98"/>
<circle cx="346.5" cy="475.8" r="0.98"/>
<circle cx="312.6" cy="477.8" r="0.98"/>
<circle cx="314.8" cy="485.7" r="0.98"/>
<circle cx="338.9" cy="485.7" r="0.98"/>
<circle cx="348.0" cy="487.5" r="0.98"/>
<circle cx="353.2" cy="487.2" r="0.98"/>
<circle cx="356.7" cy="486.4" r="0.98"/>
<circle cx="319.1" cy="493.2" r="0.98"/>
<circle cx="368.2" cy="491.3" r="0.98"/>
<circle cx="370.9" cy="493.3" r="0.98"/>
<circle cx="372.0" cy="495.9" r="0.98"/>
<circle cx="328.8" cy="497.0" r="0.98"/>
<circle cx="341.1" cy="499.1" r="0.98"/>
<circle cx="384.8" cy="499.2" r="0.98"/>
<circle cx="371.9" cy="502.2" r="0.98"/>
<circle cx="357.6" cy="503.0" r="0.98"/>
<circle cx="329.9" cy="504.6" r="0.98"/>
<circle cx="330.7" cy="506.3" r="0.98"/>
<circle cx="344.8" cy="507.9" r="0.98"/>
<circle cx="354.1" cy="506.8" r="0.98"/>
<circle cx="358.3" cy="509.2" r="0.98"/>
<circle cx="312.6" cy="510.6" r="0.98"/>
<circle cx="331.4" cy="524.6" r="0.98"/>
<circle cx="420.1" cy="389.8" r="0.98"/>
<circle cx="450.2" cy="428.0" r="0.98"/>
<circle cx="483.2" cy="442.5" r="0.98"/>
<circle cx="407.4" cy="452.5" r="0.98"/>
<circle cx="418.0" cy="450.9" r="0.98"/>
<circle cx="411.2" cy="463.1" r="0.98"/>
<circle cx="521.4" cy="452.7" r="0.98"/>
<circle cx="539.5" cy="469.6" r="0.98"/>
<circle cx="411.2" cy="473.3" r="0.98"/>
<circle cx="390.9" cy="477.8" r="0.98"/>
<circle cx="415.8" cy="477.8" r="0.98"/>
<circle cx="421.9" cy="478.7" r="0.98"/>
<circle cx="443.6" cy="479.5" r="0.98"/>
<circle cx="445.0" cy="479.5" r="0.98"/>
<circle cx="453.1" cy="477.8" r="0.98"/>
<circle cx="432.0" cy="481.9" r="0.98"/>
<circle cx="415.8" cy="483.0" r="0.98"/>
<circle cx="398.1" cy="483.5" r="0.98"/>
<circle cx="397.0" cy="485.1" r="0.98"/>
<circle cx="404.4" cy="487.6" r="0.98"/>
<circle cx="395.8" cy="491.6" r="0.98"/>
<circle cx="425.3" cy="490.5" r="0.98"/>
<circle cx="434.8" cy="493.7" r="0.98"/>
<circle cx="390.4" cy="495.0" r="0.98"/>
<circle cx="390.2" cy="504.1" r="0.98"/>
<circle cx="392.9" cy="504.8" r="0.98"/>
<circle cx="396.5" cy="511.1" r="0.98"/>
<circle cx="442.9" cy="506.8" r="0.98"/>
<circle cx="451.7" cy="504.8" r="0.98"/>
<circle cx="459.0" cy="506.8" r="0.98"/>
<circle cx="492.5" cy="524.5" r="0.98"/>
<circle cx="283.1" cy="537.1" r="0.98"/>
<circle cx="319.2" cy="626.9" r="0.98"/>
<circle cx="253.0" cy="483.5" r="0.98"/>
<circle cx="254.0" cy="485.2" r="0.98"/>
<circle cx="255.5" cy="483.0" r="0.98"/>
<circle cx="256.5" cy="485.8" r="0.98"/>
<circle cx="254.8" cy="486.3" r="0.98"/>
<circle cx="252.6" cy="485.6" r="0.98"/>
<circle cx="258.8" cy="487.8" r="0.98"/>
<circle cx="261.2" cy="486.6" r="0.98"/>
<circle cx="264.0" cy="486.8" r="0.98"/>
<circle cx="266.6" cy="489.0" r="0.98"/>
<circle cx="264.5" cy="492.0" r="0.98"/>
<circle cx="259.0" cy="490.5" r="0.98"/>
<circle cx="257.5" cy="487.6" r="0.98"/>
</g>
<line x1="231.5" y1="442.40" x2="546.5" y2="442.40" stroke="#5c5c5c" stroke-width="1" stroke-dasharray="7.43 4.196"/>
<g stroke="#262626" stroke-width="0.7" fill="none"><line x1="247.4" y1="447.77" x2="247.4" y2="437.57"/><line x1="244.5" y1="447.77" x2="250.3" y2="447.77"/><line x1="244.5" y1="437.57" x2="250.3" y2="437.57"/><circle cx="247.4" cy="442.40" r="2.95"/></g>
<text class="t" transform="translate(546.50 440.40) rotate(0.05) scale(0.968 1)" text-anchor="end">LoA: 0.02576</text>
<text class="t" transform="translate(546.50 452.75) rotate(0.05) scale(0.968 1)" text-anchor="end">CI: 0.02261 - 0.02891</text>
<line x1="231.5" y1="484.50" x2="546.5" y2="484.50" stroke="#5c5c5c" stroke-width="1"/>
<g stroke="#262626" stroke-width="0.7" fill="none"><line x1="247.4" y1="487.04" x2="247.4" y2="481.15"/><line x1="244.5" y1="487.04" x2="250.3" y2="487.04"/><line x1="244.5" y1="481.15" x2="250.3" y2="481.15"/><circle cx="247.4" cy="484.50" r="2.95"/></g>
<text class="t" transform="translate(546.50 482.50) rotate(0.05) scale(0.968 1)" text-anchor="end">mean: 0.0001883</text>
<text class="t" transform="translate(546.50 494.85) rotate(0.05) scale(0.968 1)" text-anchor="end">CI: -0.001631 - 0.002008</text>
<line x1="231.5" y1="525.45" x2="546.5" y2="525.45" stroke="#5c5c5c" stroke-width="1" stroke-dasharray="7.43 4.196"/>
<g stroke="#262626" stroke-width="0.7" fill="none"><line x1="247.4" y1="530.63" x2="247.4" y2="520.41"/><line x1="244.5" y1="530.63" x2="250.3" y2="530.63"/><line x1="244.5" y1="520.41" x2="250.3" y2="520.41"/><circle cx="247.4" cy="525.45" r="2.95"/></g>
<text class="t" transform="translate(546.50 523.45) rotate(0.05) scale(0.968 1)" text-anchor="end">LoA: -0.02539</text>
<text class="t" transform="translate(546.50 535.80) rotate(0.05) scale(0.968 1)" text-anchor="end">CI: -0.02854 - -0.02223</text>
<path d="M231.5 383.5H546.5V632.4H231.5ZM260.50 632.4v-3.5M260.50 383.5v3.5M301.50 632.4v-3.5M301.50 383.5v3.5M342.50 632.4v-3.5M342.50 383.5v3.5M384.50 632.4v-3.5M384.50 383.5v3.5M425.50 632.4v-3.5M425.50 383.5v3.5M466.50 632.4v-3.5M466.50 383.5v3.5M507.50 632.4v-3.5M507.50 383.5v3.5M231.5 387.50h3.5M546.5 387.50h-3.5M231.5 419.50h3.5M546.5 419.50h-3.5M231.5 452.50h3.5M546.5 452.50h-3.5M231.5 484.50h3.5M546.5 484.50h-3.5M231.5 516.50h3.5M546.5 516.50h-3.5M231.5 549.50h3.5M546.5 549.50h-3.5M231.5 581.50h3.5M546.5 581.50h-3.5M231.5 614.50h3.5M546.5 614.50h-3.5" fill="none" stroke="#262626" stroke-width="0.55"/>
<text class="t" transform="translate(260.10 646.70) rotate(0.05) scale(0.968 1)" text-anchor="middle">1</text>
<text class="t" transform="translate(301.40 646.70) rotate(0.05) scale(0.968 1)" text-anchor="middle">1.05</text>
<text class="t" transform="translate(342.70 646.70) rotate(0.05) scale(0.968 1)" text-anchor="middle">1.1</text>
<text class="t" transform="translate(384.00 646.70) rotate(0.05) scale(0.968 1)" text-anchor="middle">1.15</text>
<text class="t" transform="translate(425.30 646.70) rotate(0.05) scale(0.968 1)" text-anchor="middle">1.2</text>
<text class="t" transform="translate(466.60 646.70) rotate(0.05) scale(0.968 1)" text-anchor="middle">1.25</text>
<text class="t" transform="translate(507.90 646.70) rotate(0.05) scale(0.968 1)" text-anchor="middle">1.3</text>
<text class="t" transform="translate(227.20 391.10) rotate(0.05) scale(0.968 1)" text-anchor="end">0.06</text>
<text class="t" transform="translate(227.20 423.50) rotate(0.05) scale(0.968 1)" text-anchor="end">0.04</text>
<text class="t" transform="translate(227.20 455.90) rotate(0.05) scale(0.968 1)" text-anchor="end">0.02</text>
<text class="t" transform="translate(227.20 488.30) rotate(0.05) scale(0.968 1)" text-anchor="end">0</text>
<text class="t" transform="translate(227.20 520.70) rotate(0.05) scale(0.968 1)" text-anchor="end">-0.02</text>
<text class="t" transform="translate(227.20 553.10) rotate(0.05) scale(0.968 1)" text-anchor="end">-0.04</text>
<text class="t" transform="translate(227.20 585.50) rotate(0.05) scale(0.968 1)" text-anchor="end">-0.06</text>
<text class="t" transform="translate(227.20 617.90) rotate(0.05) scale(0.968 1)" text-anchor="end">-0.08</text>
<text class="l" x="389.0" y="661.8" text-anchor="middle">Average of predicted and true values</text>
<text class="l" transform="translate(198.6 507.9) rotate(-90)" text-anchor="middle">Difference between predicted and true values</text>
<text class="c" x="382.3" y="690.9" text-anchor="middle" letter-spacing="0.2">(<tspan font-size="14.6">c</tspan>)</text>
</g>
</svg></body></html>
